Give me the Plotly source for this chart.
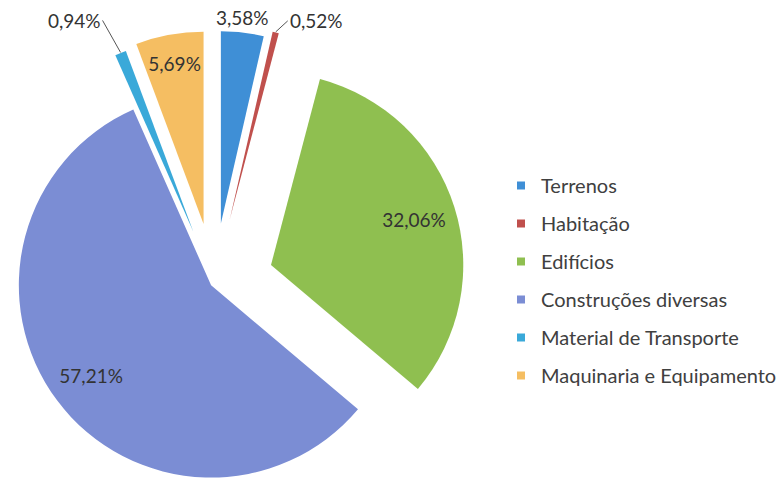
import math
import plotly.graph_objects as go

# ---- data ----
labels = ["Terrenos", "Habitação", "Edifícios", "Construções diversas",
          "Material de Transporte", "Maquinaria e Equipamento"]
values = [3.58, 0.52, 32.06, 57.21, 0.94, 5.69]
colors = ["#3f8fd6", "#c0504d", "#8fbf50", "#7b8dd4", "#3aa9d9", "#f5be62"]
pulls = [0.31, 0.34, 0.31, 0.02, 0.29, 0.31]          # explosion, fraction of radius
inside_label = [False, False, True, True, False, True]
label_ring = [0.56, 0.56, 0.56, 0.56, 0.56, 0.56]      # hole used to place inside labels

# ---- layout constants ----
W, H = 782, 482
R = 193            # pie radius in px
CX, CY = 215, 283  # un-exploded pie centre in px
FONT = "Lato"
TXT = "#333333"
LSIZE = 19

def fmt(v):
    return f"{v:.2f}%".replace(".", ",")

total = sum(values)
fig = go.Figure()
annotations = []
cum = 0.0
for i, v in enumerate(values):
    a0 = cum / total * 2 * math.pi
    cum += v
    a1 = cum / total * 2 * math.pi
    mid = (a0 + a1) / 2
    cx = CX + pulls[i] * R * math.sin(mid)
    cy = CY - pulls[i] * R * math.cos(mid)
    dom = dict(x=[max(0, (cx - R) / W), min(1, (cx + R) / W)],
               y=[max(0, 1 - (cy + R) / H), min(1, 1 - (cy - R) / H)])
    cols = [colors[j] if j == i else "rgba(0,0,0,0)" for j in range(len(values))]
    fig.add_trace(go.Pie(values=values, labels=labels, sort=False,
                         direction="clockwise", rotation=0, domain=dom,
                         marker=dict(colors=cols, line=dict(width=0)),
                         textinfo="none", hoverinfo="skip", showlegend=False))
    if inside_label[i]:
        txt = [fmt(values[j]) if j == i else "" for j in range(len(values))]
        fig.add_trace(go.Pie(values=values, labels=labels, sort=False,
                             direction="clockwise", rotation=0, domain=dom,
                             hole=label_ring[i], text=txt, textinfo="text",
                             textposition="inside", insidetextorientation="horizontal",
                             textfont=dict(family=FONT, size=LSIZE, color=TXT),
                             marker=dict(colors=["rgba(0,0,0,0)"] * len(values),
                                         line=dict(width=0)),
                             hoverinfo="skip", showlegend=False))
    else:
        # outside label anchored at the outer middle of the slice
        ox = cx + R * math.sin(mid)
        oy = cy - R * math.cos(mid)
        if mid < 0.15:      # top slice: label straight above, no leader line
            annotations.append(dict(x=ox / W, y=1 - oy / H, xref="paper", yref="paper",
                                    text=fmt(v), showarrow=False, xanchor="center",
                                    yanchor="bottom", yshift=1,
                                    font=dict(family=FONT, size=LSIZE, color=TXT)))
        else:
            right = math.sin(mid) > 0
            annotations.append(dict(x=ox / W, y=1 - oy / H, xref="paper", yref="paper",
                                    text=fmt(v), showarrow=True, arrowhead=0,
                                    arrowwidth=1, arrowcolor="#555555",
                                    ax=12 if right else -18,
                                    ay=-11 if right else -32,
                                    xanchor="left" if right else "right",
                                    yanchor="middle", standoff=0,
                                    font=dict(family=FONT, size=LSIZE, color=TXT)))

# legend entries
for i, lab in enumerate(labels):
    fig.add_trace(go.Scatter(x=[None], y=[None], mode="markers", name=lab,
                             legendgroup=f"g{i}",
                             marker=dict(symbol="square", size=8, color=colors[i])))

fig.update_layout(
    width=W, height=H, margin=dict(l=0, r=0, t=0, b=0),
    paper_bgcolor="white", plot_bgcolor="white",
    xaxis=dict(visible=False), yaxis=dict(visible=False),
    showlegend=True,
    legend=dict(x=503 / W, y=1 - 166 / H, xanchor="left", yanchor="top",
                font=dict(family=FONT, size=20, color="#404040"),
                tracegroupgap=9, itemwidth=30, bgcolor="rgba(0,0,0,0)"),
    annotations=annotations,
)

fig.write_html("out.html", config={"displayModeBar": False},
               post_script="document.body.style.margin='0';")
